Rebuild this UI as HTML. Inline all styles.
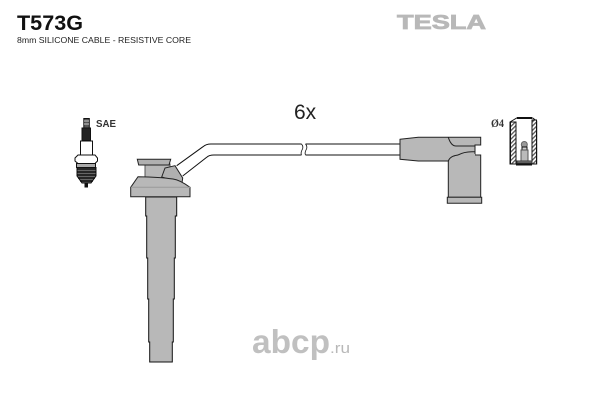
<!DOCTYPE html>
<html><head><meta charset="utf-8">
<style>html,body{margin:0;padding:0;background:#fff}svg{display:block}</style></head>
<body>
<svg width="600" height="400" viewBox="0 0 600 400" xmlns="http://www.w3.org/2000/svg">
<defs>
<pattern id="h" width="3" height="3" patternUnits="userSpaceOnUse" patternTransform="rotate(45)">
<rect width="3" height="3" fill="#fff"/><rect width="1.3" height="3" fill="#555"/>
</pattern>
</defs>
<rect width="600" height="400" fill="#fff"/>
<text x="17" y="30" font-family="Liberation Sans" font-weight="bold" font-size="21" textLength="66" lengthAdjust="spacingAndGlyphs" fill="#111">T573G</text>
<text x="17" y="43" font-family="Liberation Sans" font-size="8.5" textLength="174" lengthAdjust="spacingAndGlyphs" fill="#222">8mm SILICONE CABLE - RESISTIVE CORE</text>
<text x="397" y="29" font-family="Liberation Sans" font-weight="bold" font-size="20" textLength="89" lengthAdjust="spacingAndGlyphs" fill="#b8b8b8" stroke="#b8b8b8" stroke-width=".8">TESLA</text>
<text x="294" y="119" font-family="Liberation Sans" font-size="21" fill="#222">6x</text>
<text x="96" y="127" font-family="Liberation Sans" font-weight="bold" font-size="10" textLength="20" lengthAdjust="spacingAndGlyphs" fill="#333">SAE</text>
<text x="491" y="127" font-family="Liberation Serif" font-weight="bold" font-size="12" textLength="13" lengthAdjust="spacingAndGlyphs" fill="#333">Ø4</text>
<text x="252" y="353" font-family="Liberation Sans" font-weight="bold" font-size="33" textLength="78" lengthAdjust="spacingAndGlyphs" fill="#c0c0c0">abcp</text>
<text x="330" y="353" font-family="Liberation Sans" font-size="15" textLength="20" lengthAdjust="spacingAndGlyphs" fill="#b8b8b8">.ru</text>

<!-- wire -->
<g fill="none" stroke="#111" stroke-width="1">
<path d="M176.7 165.7L203 146.7Q206 144 211 144H301.5M305.5 144H400"/>
<path d="M182.7 176L206.7 157.3Q209 155 214 155H301.5M305.5 155H400"/>
<path d="M301.5 144Q304 147 302 150Q300.5 153 301.5 155M305.5 144Q308 147 306 150Q304.5 153 305.5 155" stroke-width=".8"/>
</g>

<!-- left boot -->
<g fill="#b8b8b8" stroke="#222" stroke-width="1">
<path d="M145.7 197H176.7V216H175.3V258H174.3V299H173.3V342H172.3V362H149.7V342H148.7V299H147.7V258H146.7V216H145.7Z" stroke="#111"/>
<path d="M145 164H170V180H145Z" stroke="#555"/>
<path d="M137.3 159.3H170.7L169 165H138.7Z" fill="#b0b0b0"/>
<path d="M161.7 177L165 168L175 165.7L182.7 178L182 183Z" fill="#b0b0b0"/>
<path d="M130.7 187.3L138 176.7Q160 177 173 179Q180 180 190 187.3V196.7H130.7Z" fill="#b8b8b8"/>
</g>
<path d="M131 187.3H190" stroke="#999" fill="none"/>

<!-- right boot -->
<g fill="#b8b8b8" stroke="#222" stroke-width="1">
<path d="M448.3 161.5Q449 156 458 155H480.7V197.3H448.3Z"/>
<path d="M400 139.3L418.3 137.3H480.7V145H475V155H458Q450 156 448.3 161L418.3 161L400 159.3Z"/>
<path d="M447.3 197.3H481.7V203.3H447.3Z"/>
<path d="M448.3 137.3Q451 146 456 146H475" fill="none"/>
<path d="M458 155H475" stroke="#b8b8b8" stroke-width="2"/>
<path d="M458 155Q464 151.7 472 151.7H475" fill="none"/>
</g>

<!-- terminal -->
<g stroke="#111" stroke-width="1">
<path d="M510 122L516.7 118H532.7L536.7 121V164H510Z" fill="#fff"/>
<rect x="510.5" y="122" width="5.5" height="42" fill="url(#h)"/>
<rect x="532" y="120" width="4.5" height="44" fill="url(#h)"/>
<path d="M517 118H532" stroke-width="2"/>
<path d="M516 164.5H532" stroke-width="2"/>
<circle cx="524.3" cy="144.5" r="3" fill="#999" stroke="#666"/>
<rect x="522" y="147" width="5" height="3" fill="#ccc"/>
<rect x="521" y="150" width="7" height="11" fill="#bbb" stroke="#555"/>
<rect x="517" y="161" width="15" height="2" fill="#888" stroke="#333"/>
</g>

<!-- spark plug -->
<g stroke="#111" stroke-width="1">
<rect x="83.8" y="118.5" width="5.5" height="9.5" fill="#555"/>
<path d="M84 121H89M84 124H89" stroke="#ccc"/>
<rect x="82" y="128" width="8.5" height="12.5" fill="#222"/>
<rect x="80.5" y="141" width="12" height="14" fill="#fff"/>
<path d="M75 158L78 155H95L97.5 158V161L95 163.5H78L75 161Z" fill="#fff"/>
<rect x="76.5" y="163.5" width="19" height="4" fill="#aaa"/>
<path d="M77 167.5H96V176L91 183H82L77 176Z" fill="#666"/>
<path d="M77 169H96M77 172H96M77 175H96M78 178H95M80 181H93" stroke="#000" stroke-width="1.2"/>
<rect x="85" y="183" width="2.5" height="4" fill="#111"/>
</g>
</svg>
</body></html>
